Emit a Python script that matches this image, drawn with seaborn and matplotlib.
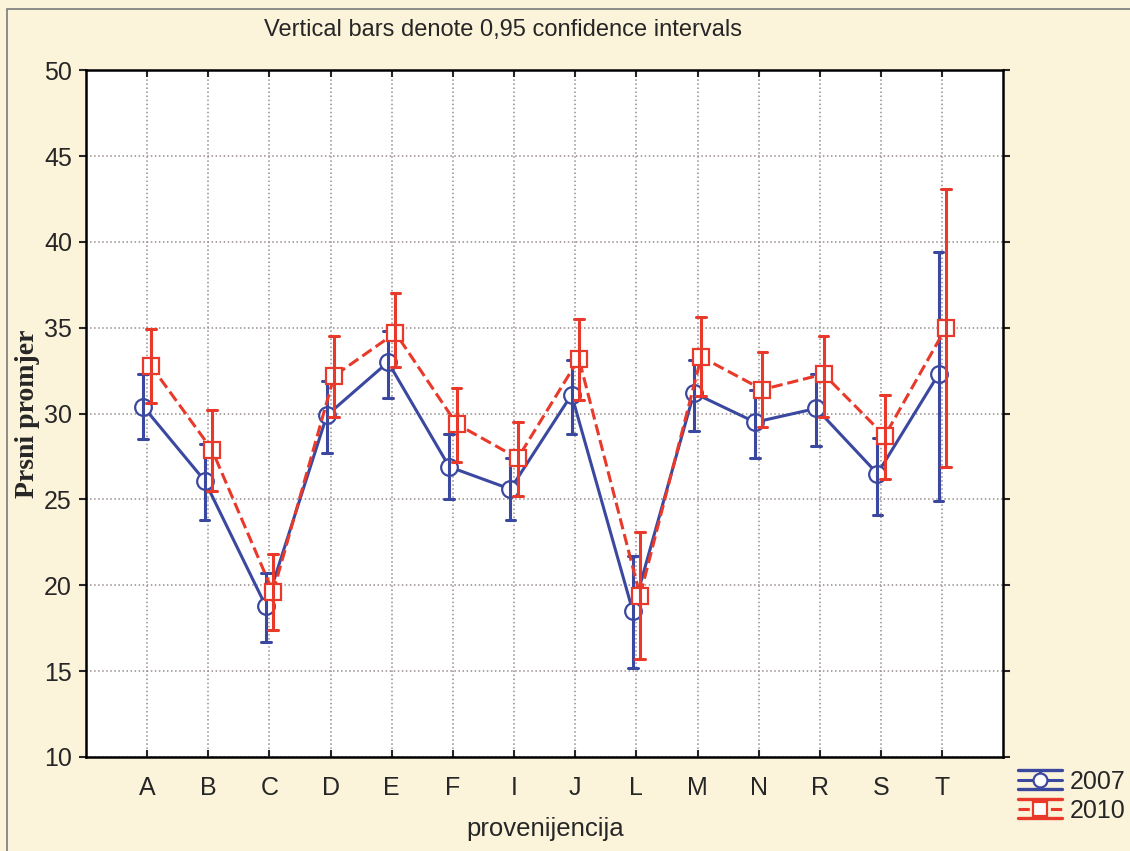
import pandas as pd
import seaborn as sns
import matplotlib.pyplot as plt
import matplotlib.patches as mpatches
from matplotlib.lines import Line2D
from matplotlib.legend_handler import HandlerBase

# podaci ocitani sa slike (sredina i 95% interval)
provenijencije = ['A', 'B', 'C', 'D', 'E', 'F', 'I', 'J', 'L', 'M', 'N', 'R', 'S', 'T']
sred_2007 = [30.4, 26.1, 18.8, 29.9, 33.0, 26.9, 25.6, 31.1, 18.5, 31.2, 29.5, 30.3, 26.5, 32.3]
donja_2007 = [28.5, 23.8, 16.7, 27.7, 30.9, 25.0, 23.8, 28.8, 15.2, 29.0, 27.4, 28.1, 24.1, 24.9]
gornja_2007 = [32.3, 28.2, 20.7, 31.9, 34.8, 28.8, 27.4, 33.1, 21.7, 33.1, 31.4, 32.3, 28.6, 39.4]
sred_2010 = [32.8, 27.9, 19.6, 32.2, 34.7, 29.4, 27.4, 33.2, 19.4, 33.3, 31.4, 32.3, 28.7, 35.0]
donja_2010 = [30.6, 25.5, 17.4, 29.8, 32.7, 27.2, 25.2, 30.8, 15.7, 31.0, 29.2, 29.8, 26.2, 26.9]
gornja_2010 = [34.9, 30.2, 21.8, 34.5, 37.0, 31.5, 29.5, 35.5, 23.1, 35.6, 33.6, 34.5, 31.1, 43.1]
godine = ['2007', '2010']

# duga tablica: donja, sredina, gornja -> median = sredina, raspon = interval
redovi = []
for god, sr, dn, gr in [('2007', sred_2007, donja_2007, gornja_2007),
                        ('2010', sred_2010, donja_2010, gornja_2010)]:
    for p, s, d, g in zip(provenijencije, sr, dn, gr):
        for v in (d, s, g):
            redovi.append({'provenijencija': p, 'godina': god, 'vrijednost': v})
df = pd.DataFrame(redovi)

boje = {'2007': '#3B48A0', '2010': '#E8392A'}
pozadina = '#FCF4DA'


class HandlerCI(HandlerBase):
    # legenda u stilu STATISTICA: linija s markerom i kapicama gore i dolje
    def create_artists(self, legend, orig, xd, yd, width, height, fontsize, trans):
        c = orig.get_color()
        sr = height / 2 - yd
        h = height * 0.55
        x0, x1 = -xd, -xd + width
        xm = (x0 + x1) / 2
        gore = Line2D([x0, x1], [sr + h, sr + h], color=c, lw=2.4)
        dolje = Line2D([x0, x1], [sr - h, sr - h], color=c, lw=2.4)
        okomita = Line2D([xm, xm], [sr - h, sr + h], color=c, lw=2.2)
        sredina = Line2D([x0, x1], [sr, sr], color=c, lw=2.2,
                         linestyle=orig.get_linestyle())
        marker = Line2D([xm], [sr], color=c, marker=orig.get_marker(),
                        markersize=10, markerfacecolor='white',
                        markeredgewidth=1.6, linestyle='none')
        arts = [gore, dolje, okomita, sredina, marker]
        for a in arts:
            a.set_transform(trans)
        return arts


sns.set_style('white')
plt.rcParams['font.family'] = ['Liberation Sans', 'DejaVu Sans']

fig = plt.figure(figsize=(11.3, 8.51), dpi=100, facecolor=pozadina)
ax = fig.add_axes([0.076, 0.1105, 0.812, 0.807])
ax.set_facecolor('white')

sns.pointplot(data=df, x='provenijencija', y='vrijednost', hue='godina',
              order=provenijencije, hue_order=godine, palette=boje,
              estimator='median', errorbar=('pi', 100), dodge=0.12,
              markers=['o', 's'], linestyles=['-', '--'], capsize=0.16,
              linewidth=2.2, markersize=12, markeredgewidth=1.6,
              err_kws={'linewidth': 2.2}, ax=ax)

for ln in ax.lines:
    ln.set_markerfacecolor('white')

ax.set_xlim(-1, 14)
ax.set_ylim(10, 50)
ax.set_yticks(range(10, 51, 5))

ax.grid(True, linestyle=':', color='#9A8C8C', linewidth=1.1)
ax.set_axisbelow(True)
for s in ax.spines.values():
    s.set_visible(True)
    s.set_color('black')
    s.set_linewidth(1.8)

ax.yaxis.set_ticks_position('both')
ax.xaxis.set_ticks_position('both')
ax.tick_params(axis='y', which='both', direction='out', length=5, width=1.5,
               labelsize=18, pad=5)
ax.tick_params(axis='x', which='both', direction='in', length=5, width=1.5,
               labelsize=18, pad=14)

ax.set_xlabel('provenijencija', fontsize=18.5, labelpad=12)
ax.set_ylabel('Prsni promjer', fontsize=20, fontweight='bold',
              family=['Liberation Serif', 'DejaVu Serif'], labelpad=3)

fig.text(503 / 1130, 1 - 30 / 851, 'Vertical bars denote 0,95 confidence intervals',
         ha='center', va='center', fontsize=17)

oznake = [Line2D([], [], color=boje[g], marker=m, linestyle=ls)
          for g, m, ls in zip(godine, ['o', 's'], ['-', '--'])]
ax.get_legend().remove()
ax.legend(oznake, godine, handler_map={Line2D: HandlerCI()},
          loc='center left', bbox_to_anchor=(1.016, -0.057),
          frameon=False, fontsize=18, handlelength=1.75, handletextpad=0.3,
          labelspacing=0.2, borderaxespad=0, borderpad=0)

# tanki okvir oko slike
fig.patches.append(mpatches.Rectangle((7 / 1130, -0.05), 1.1, 1.05 - 9 / 851,
                                      transform=fig.transFigure, fill=False,
                                      edgecolor='#7A7A7A', linewidth=1.2))

plt.savefig('out.png', dpi=100, facecolor=pozadina)
plt.close()
